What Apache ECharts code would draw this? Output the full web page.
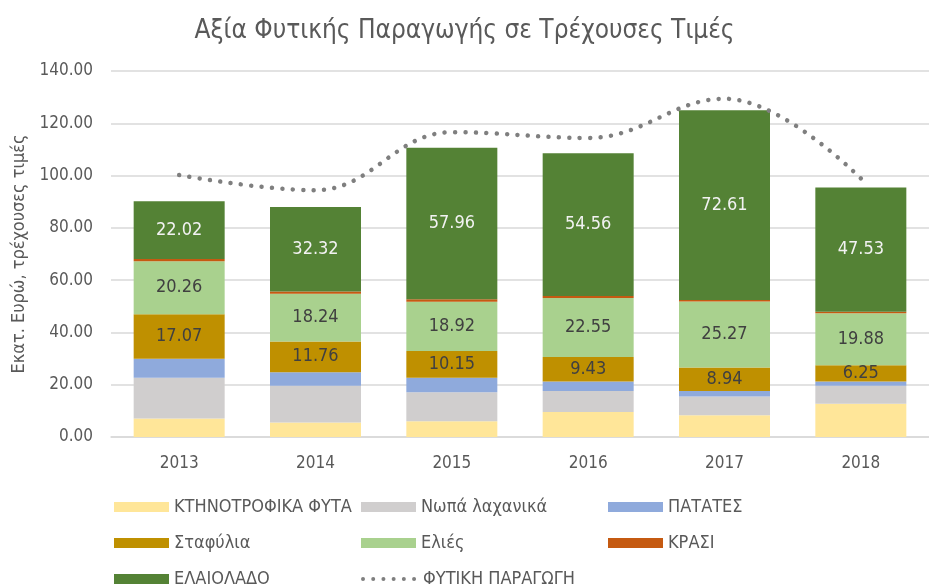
<!DOCTYPE html>
<html>
<head>
<meta charset="utf-8">
<script src="https://cdn.jsdelivr.net/npm/echarts@6/dist/echarts.min.js"></script>
<style>
html,body{margin:0;padding:0;background:#fff;}
#c{width:929px;height:587px;}
</style>
</head>
<body>
<div id="c"></div>
<script>
var years = ['2013','2014','2015','2016','2017','2018'];
var ktinotrofika = [7.1, 5.5, 6.0, 9.6, 8.3, 12.7];
var nopa = [15.6, 14.1, 11.1, 8.0, 7.2, 6.9];
var patates = [7.2, 5.2, 5.6, 3.6, 2.1, 1.6];
var stafylia = [17.07, 11.76, 10.15, 9.43, 8.94, 6.25];
var elies = [20.26, 18.24, 18.92, 22.55, 25.27, 19.88];
var krasi = [0.9, 0.9, 0.9, 0.8, 0.6, 0.6];
var elaiolado = [22.02, 32.32, 57.96, 54.56, 72.61, 47.53];
var fytiki = [100.2, 94.4, 116.6, 114.4, 129.4, 98.9];
var yTicks = [0, 20, 40, 60, 80, 100, 120, 140];
var legendNames = ['ΚΤΗΝΟΤΡΟΦΙΚΑ ΦΥΤΑ', 'Νωπά λαχανικά', 'ΠΑΤΑΤΕΣ', 'Σταφύλια', 'Ελιές', 'ΚΡΑΣΙ', 'ΕΛΑΙΟΛΑΔΟ', 'ΦΥΤΙΚΗ ΠΑΡΑΓΩΓΗ'];

var FONT = "'Liberation Sans Narrow', 'DejaVu Sans Condensed', 'Roboto', sans-serif";
var GREY = '#595959';

function barSeries(name, data, color, label, labelColor) {
  var s = {
    name: name, type: 'bar', stack: 'total', data: data,
    barWidth: 91,
    itemStyle: { color: color },
    label: { show: false }
  };
  if (label) {
    s.label = {
      show: true, position: 'inside', color: labelColor,
      fontFamily: FONT, fontSize: 18,
      formatter: function (p) { return p.value.toFixed(2); }
    };
  }
  return s;
}

var colLeft = [109, 356, 603];
var rowTop = [492, 528, 564];
var legends = legendNames.map(function (n, i) {
  var col = i % 3, row = Math.floor(i / 3);
  var lg = {
    left: colLeft[col], top: rowTop[row],
    itemWidth: 55, itemHeight: 10,
    textStyle: { fontFamily: FONT, fontSize: 18, color: GREY, lineHeight: 20 },
    data: [n]
  };
  if (n !== 'ΦΥΤΙΚΗ ΠΑΡΑΓΩΓΗ') {
    lg.icon = 'rect';
  } else {
    lg.itemStyle = { color: 'rgba(0,0,0,0)', borderWidth: 0, opacity: 0 };
    lg.lineStyle = { color: '#7F7F7F', width: 4, type: [0.01, 10.2], cap: 'round', opacity: 1 };
  }
  return lg;
});

var chart = echarts.init(document.getElementById('c'));
chart.setOption({
  animation: false,
  textStyle: { fontFamily: FONT },
  title: {
    text: 'Αξία Φυτικής Παραγωγής σε Τρέχουσες Τιμές',
    left: 'center', top: 13,
    textStyle: { fontFamily: FONT, fontSize: 26, fontWeight: 'normal', color: GREY }
  },
  legend: legends,
  grid: { left: 111, right: -10, top: 71, bottom: 150, containLabel: false },
  xAxis: {
    type: 'category', data: years,
    axisLine: { lineStyle: { color: '#d9d9d9', width: 1.5 } },
    axisTick: { show: false },
    axisLabel: { color: GREY, fontFamily: FONT, fontSize: 17, margin: 18 }
  },
  yAxis: {
    type: 'value', min: yTicks[0], max: yTicks[yTicks.length - 1], interval: 20,
    name: 'Εκατ. Ευρώ, τρέχουσες τιμές', nameLocation: 'middle', nameGap: 82,
    nameTextStyle: { color: GREY, fontFamily: FONT, fontSize: 18 },
    axisLine: { show: false }, axisTick: { show: false },
    splitLine: { lineStyle: { color: '#d9d9d9', width: 1.5 } },
    axisLabel: { color: GREY, fontFamily: FONT, fontSize: 17, margin: 18,
      formatter: function (v) { return v.toFixed(2); } }
  },
  series: [
    barSeries('ΚΤΗΝΟΤΡΟΦΙΚΑ ΦΥΤΑ', ktinotrofika, '#FFE699'),
    barSeries('Νωπά λαχανικά', nopa, '#D0CECE'),
    barSeries('ΠΑΤΑΤΕΣ', patates, '#8FAADC'),
    barSeries('Σταφύλια', stafylia, '#BF9000', true, '#404040'),
    barSeries('Ελιές', elies, '#A9D18E', true, '#404040'),
    barSeries('ΚΡΑΣΙ', krasi, '#C55A11'),
    barSeries('ΕΛΑΙΟΛΑΔΟ', elaiolado, '#548235', true, '#f2f2f2'),
    {
      name: 'ΦΥΤΙΚΗ ΠΑΡΑΓΩΓΗ', type: 'line', data: fytiki, smooth: 0.4,
      symbol: 'none', z: 5,
      itemStyle: { color: '#7F7F7F' },
      lineStyle: { color: '#7F7F7F', width: 4.5, type: [0.01, 10.4], cap: 'round' }
    }
  ]
});
</script>
</body>
</html>
